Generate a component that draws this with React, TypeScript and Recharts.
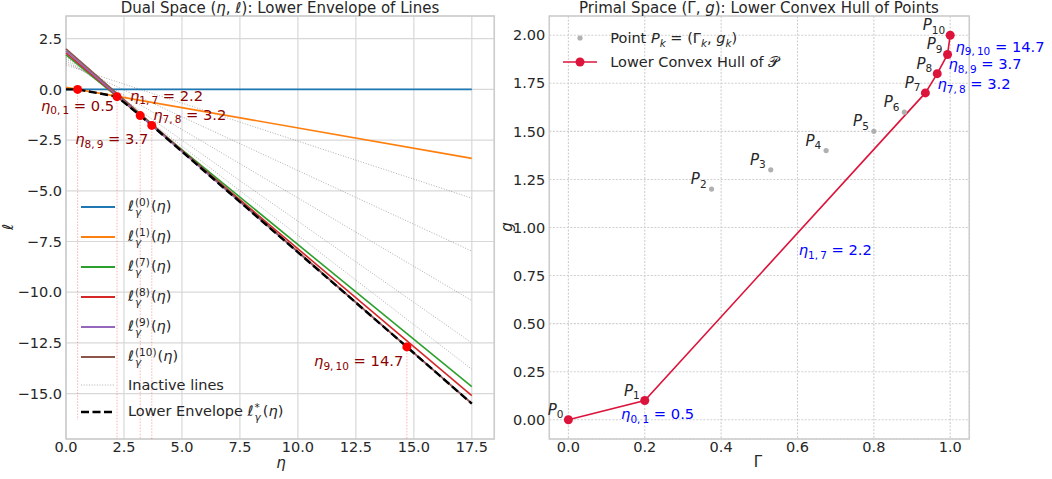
import React from 'react';
import {
  ComposedChart,
  Line,
  Scatter,
  XAxis,
  YAxis,
  CartesianGrid,
  ReferenceLine,
  ReferenceArea,
} from 'recharts';

// points P_k = (Gamma_k, g_k)
const gammaK = [0, 0.2, 0.375, 0.53, 0.675, 0.8, 0.88, 0.935, 0.966, 0.993, 1.0];
const gK = [0, 0.1, 1.2, 1.3, 1.4, 1.5, 1.6, 1.7, 1.8, 1.9, 2.0];
const hullIdx = [0, 1, 7, 8, 9, 10];
const inactiveIdx = [2, 3, 4, 5, 6];
const breakEta = [0.5, 2.2, 3.2, 3.7, 14.7];
const breakSubs = ['0,\u20091', '1,\u20097', '7,\u20098', '8,\u20099', '9,\u200910'];
const breakVals = ['0.5', '2.2', '3.2', '3.7', '14.7'];
const etaRange = [0, 17.5];

const leftXTicks = [0, 2.5, 5, 7.5, 10, 12.5, 15, 17.5];
const leftYTicks = [-15, -12.5, -10, -7.5, -5, -2.5, 0, 2.5];
const rightXTicks = [0, 0.2, 0.4, 0.6, 0.8, 1.0];
const rightYTicks = [0, 0.25, 0.5, 0.75, 1.0, 1.25, 1.5, 1.75, 2.0];

const lineColors: Record<number, string> = {
  0: '#1f77b4',
  1: '#ff7f0e',
  7: '#2ca02c',
  8: '#d62728',
  9: '#9467bd',
  10: '#8c564b',
};

// layout constants
const FONT = '"DejaVu Sans", sans-serif';
const TXT = '#262626';
const LX = [0, 18.47];
const LY = [-17.24, 3.62];
const RX = [-0.05, 1.05];
const RY = [-0.1, 2.1];
// label offsets in px: [dx, dy, anchor]
const leftLabelPos: [number, number, string][] = [
  [0, 21.5, 'middle'],
  [13, 4, 'start'],
  [13, 4.3, 'start'],
  [-3.4, 18.7, 'end'],
  [-3.6, 19.3, 'end'],
];
const rightLabelPos: [number, number][] = [
  [14.5, 9],
  [13.7, 8.3],
  [6.2, 6.2],
  [6.1, 5.1],
  [6.6, 7.1],
];
const vlineBottoms = [-16.3, LY[0], LY[0], LY[0], LY[0]];

const lineAt = (k: number, eta: number) => gK[k] - eta * gammaK[k];
const envAt = (eta: number) => Math.min(...hullIdx.map((k) => lineAt(k, eta)));

const dualLines = gammaK.map((_, k) => etaRange.map((eta) => ({ eta, l: lineAt(k, eta) })));
const envelope = [etaRange[0], ...breakEta, etaRange[1]].map((eta) => ({ eta, l: envAt(eta) }));
const breakPts = breakEta.map((eta, i) => ({ eta, l: envAt(eta), i }));

const allPts = gammaK.map((x, k) => ({ x, y: gK[k], k }));
const hullPts = hullIdx.map((k) => ({ x: gammaK[k], y: gK[k], k }));
const hullMids = hullPts.slice(1).map((p, i) => ({
  x: (p.x + hullPts[i].x) / 2,
  y: (p.y + hullPts[i].y) / 2,
  i,
}));

const minus = (s: string) => s.replace('-', '\u2212');
const tickStyle = { fill: TXT, fontSize: 14.5, fontFamily: FONT };

const EtaText = ({ x, y, i, color, anchor }: any) => (
  <text x={x} y={y} fill={color} fontSize={14.7} fontFamily={FONT} textAnchor={anchor}>
    <tspan fontStyle="italic">η</tspan>
    <tspan fontSize={10.5} dy={3.5}>
      {breakSubs[i]}
    </tspan>
    <tspan dy={-3.5}>{' = ' + breakVals[i]}</tspan>
  </text>
);

const ellLabel = (sup: string) => (
  <span>
    <span style={{ fontStyle: 'italic' }}>ℓ</span>
    <span
      style={{
        display: 'inline-flex',
        flexDirection: 'column',
        fontSize: 10.5,
        lineHeight: '10px',
        verticalAlign: 'middle',
        marginLeft: 1,
        marginRight: 1,
      }}
    >
      <span>{sup}</span>
      <span style={{ fontStyle: 'italic' }}>γ</span>
    </span>
    (<span style={{ fontStyle: 'italic' }}>η</span>)
  </span>
);

const LegendRow = ({ top, left, sample, children }: any) => (
  <div
    style={{
      position: 'absolute',
      top: top - 12,
      left,
      height: 24,
      display: 'flex',
      alignItems: 'center',
      fontSize: 14.5,
      color: TXT,
      whiteSpace: 'nowrap',
    }}
  >
    <svg width={34} height={12} style={{ marginRight: 13 }}>
      {sample}
    </svg>
    {children}
  </div>
);

const leftLegendTops = [206.7, 237.3, 267.3, 297, 326.7, 357.3];

const App = () => {
  return (
    <div
      style={{
        position: 'absolute',
        left: 0,
        top: 0,
        width: 1052,
        height: 479,
        background: '#fff',
        fontFamily: FONT,
        overflow: 'hidden',
      }}
    >
      {/* left: dual space */}
      <div style={{ position: 'absolute', left: 0, top: 0 }}>
        <ComposedChart width={520} height={479} margin={{ top: 16, right: 25.7, bottom: 0, left: 0 }}>
          <CartesianGrid stroke="#d8d8d8" strokeWidth={1.2} />
          <XAxis
            type="number"
            dataKey="eta"
            domain={LX}
            ticks={leftXTicks}
            interval={0}
            tickFormatter={(v: number) => v.toFixed(1)}
            axisLine={false}
            tickLine={false}
            tickSize={0}
            tickMargin={3}
            tick={tickStyle}
            height={40}
          />
          <YAxis
            type="number"
            dataKey="l"
            domain={LY}
            ticks={leftYTicks}
            interval={0}
            tickFormatter={(v: number) => minus(v.toFixed(1))}
            axisLine={false}
            tickLine={false}
            tickSize={0}
            tickMargin={4}
            tick={tickStyle}
            width={66}
          />
          {breakPts.map((p, i) => (
            <ReferenceLine
              key={'v' + i}
              segment={[
                { x: p.eta, y: p.l },
                { x: p.eta, y: vlineBottoms[i] },
              ]}
              stroke="#ff0000"
              strokeOpacity={0.3}
              strokeWidth={1}
              strokeDasharray="1.5 1.5"
            />
          ))}
          {inactiveIdx.map((k) => (
            <Line
              key={'in' + k}
              data={dualLines[k]}
              dataKey="l"
              type="linear"
              stroke="#8c8c8c"
              strokeOpacity={0.7}
              strokeWidth={1}
              strokeDasharray="1 1.65"
              dot={false}
              isAnimationActive={false}
            />
          ))}
          {hullIdx.map((k) => (
            <Line
              key={'a' + k}
              data={dualLines[k]}
              dataKey="l"
              type="linear"
              stroke={lineColors[k]}
              strokeWidth={1.6}
              dot={false}
              isAnimationActive={false}
            />
          ))}
          <Line
            data={envelope}
            dataKey="l"
            type="linear"
            stroke="#000"
            strokeWidth={2.4}
            strokeDasharray="8 3.5"
            dot={false}
            isAnimationActive={false}
          />
          <Scatter
            data={breakPts}
            dataKey="l"
            isAnimationActive={false}
            shape={(p: any) => <circle cx={p.cx} cy={p.cy} r={4.5} fill="#ff0000" />}
          />
          <Scatter
            data={breakPts}
            dataKey="l"
            isAnimationActive={false}
            shape={(p: any) => {
              const i = p.payload.i;
              const [dx, dy, anchor] = leftLabelPos[i];
              return <EtaText x={p.cx + dx} y={p.cy + dy} i={i} color="#8b0000" anchor={anchor} />;
            }}
          />
          <ReferenceArea
            x1={LX[0]}
            x2={LX[1]}
            y1={LY[0]}
            y2={LY[1]}
            fill="none"
            fillOpacity={0}
            stroke="#cccccc"
            strokeWidth={1.5}
          />
        </ComposedChart>
      </div>

      {/* right: primal space */}
      <div style={{ position: 'absolute', left: 490, top: 0 }}>
        <ComposedChart width={562} height={479} margin={{ top: 16, right: 82.7, bottom: 0, left: 0 }}>
          <CartesianGrid stroke="#cfcfcf" strokeWidth={1.1} strokeDasharray="2 1.5" />
          <XAxis
            type="number"
            dataKey="x"
            domain={RX}
            ticks={rightXTicks}
            interval={0}
            tickFormatter={(v: number) => v.toFixed(1)}
            axisLine={false}
            tickLine={false}
            tickSize={0}
            tickMargin={3}
            tick={tickStyle}
            height={40}
          />
          <YAxis
            type="number"
            dataKey="y"
            domain={RY}
            ticks={rightYTicks}
            interval={0}
            tickFormatter={(v: number) => v.toFixed(2)}
            axisLine={false}
            tickLine={false}
            tickSize={0}
            tickMargin={4}
            tick={tickStyle}
            width={59.3}
          />
          <Scatter
            data={allPts}
            dataKey="y"
            isAnimationActive={false}
            shape={(p: any) => <circle cx={p.cx} cy={p.cy} r={2.6} fill="#b0b0b0" />}
          />
          <Line
            data={hullPts}
            dataKey="y"
            type="linear"
            stroke="#dc143c"
            strokeWidth={1.6}
            dot={{ r: 4.5, fill: '#dc143c', stroke: 'none' }}
            isAnimationActive={false}
          />
          <Scatter
            data={allPts}
            dataKey="y"
            isAnimationActive={false}
            shape={(p: any) => (
              <text x={p.cx - 5} y={p.cy - 5} fill={TXT} fontSize={15} fontFamily={FONT} textAnchor="end">
                <tspan fontStyle="italic">P</tspan>
                <tspan fontSize={10.5} dy={3.5}>
                  {p.payload.k}
                </tspan>
              </text>
            )}
          />
          <Scatter
            data={hullMids}
            dataKey="y"
            isAnimationActive={false}
            shape={(p: any) => {
              const i = p.payload.i;
              const [dx, dy] = rightLabelPos[i];
              return <EtaText x={p.cx + dx} y={p.cy + dy} i={i} color="#0000ff" anchor="start" />;
            }}
          />
          <ReferenceArea
            x1={RX[0]}
            x2={RX[1]}
            y1={RY[0]}
            y2={RY[1]}
            fill="none"
            fillOpacity={0}
            stroke="#cccccc"
            strokeWidth={1.5}
          />
        </ComposedChart>
      </div>

      {/* titles and axis labels */}
      <div style={{ position: 'absolute', top: -1, left: 280, transform: 'translateX(-50%)', fontSize: 15, color: TXT, whiteSpace: 'nowrap' }}>
        Dual Space (<i>η</i>, <i>ℓ</i>): Lower Envelope of Lines
      </div>
      <div style={{ position: 'absolute', top: -1, left: 759, transform: 'translateX(-50%)', fontSize: 15, color: TXT, whiteSpace: 'nowrap' }}>
        Primal Space (Γ, <i>g</i>): Lower Convex Hull of Points
      </div>
      <div style={{ position: 'absolute', top: 454, left: 281, transform: 'translateX(-50%)', fontSize: 15, color: TXT, fontStyle: 'italic' }}>
        η
      </div>
      <div style={{ position: 'absolute', top: 453, left: 758, transform: 'translateX(-50%)', fontSize: 15, color: TXT }}>
        Γ
      </div>
      <div style={{ position: 'absolute', top: 218, left: 5, transform: 'rotate(-90deg)', fontSize: 15, color: TXT, fontStyle: 'italic' }}>
        ℓ
      </div>
      <div style={{ position: 'absolute', top: 218, left: 502, transform: 'rotate(-90deg)', fontSize: 15, color: TXT, fontStyle: 'italic' }}>
        g
      </div>

      {/* left legend */}
      {hullIdx.map((k, i) => (
        <LegendRow
          key={'lg' + k}
          top={leftLegendTops[i]}
          left={81}
          sample={<line x1={0} y1={6} x2={34} y2={6} stroke={lineColors[k]} strokeWidth={2} />}
        >
          {ellLabel('(' + k + ')')}
        </LegendRow>
      ))}
      <LegendRow
        top={385}
        left={81}
        sample={<line x1={0} y1={6} x2={34} y2={6} stroke="#8c8c8c" strokeOpacity={0.7} strokeWidth={1} strokeDasharray="1 1.65" />}
      >
        Inactive lines
      </LegendRow>
      <LegendRow
        top={411.7}
        left={81}
        sample={<line x1={0} y1={6} x2={34} y2={6} stroke="#000" strokeWidth={2.4} strokeDasharray="8 3.5" />}
      >
        <span>
          Lower Envelope&nbsp;
          <span style={{ fontStyle: 'italic' }}>ℓ</span>
          <span
            style={{
              display: 'inline-flex',
              flexDirection: 'column',
              fontSize: 10.5,
              lineHeight: '10px',
              verticalAlign: 'middle',
              marginLeft: 1,
              marginRight: 2,
            }}
          >
            <span>*</span>
            <span style={{ fontStyle: 'italic' }}>γ</span>
          </span>
          (<span style={{ fontStyle: 'italic' }}>η</span>)
        </span>
      </LegendRow>

      {/* right legend */}
      <LegendRow top={38.3} left={563.3} sample={<circle cx={17} cy={6} r={2.6} fill="#b0b0b0" />}>
        <span>
          Point <i>P</i>
          <sub style={{ fontSize: 10.5, fontStyle: 'italic', lineHeight: 0 }}>k</sub> = (Γ
          <sub style={{ fontSize: 10.5, fontStyle: 'italic', lineHeight: 0 }}>k</sub>, <i>g</i>
          <sub style={{ fontSize: 10.5, fontStyle: 'italic', lineHeight: 0 }}>k</sub>)
        </span>
      </LegendRow>
      <LegendRow
        top={62.3}
        left={563.3}
        sample={
          <g>
            <line x1={0} y1={6} x2={34} y2={6} stroke="#dc143c" strokeWidth={1.6} />
            <circle cx={17} cy={6} r={4.5} fill="#dc143c" />
          </g>
        }
      >
        Lower Convex Hull of 𝒫
      </LegendRow>
    </div>
  );
};

export default App;
